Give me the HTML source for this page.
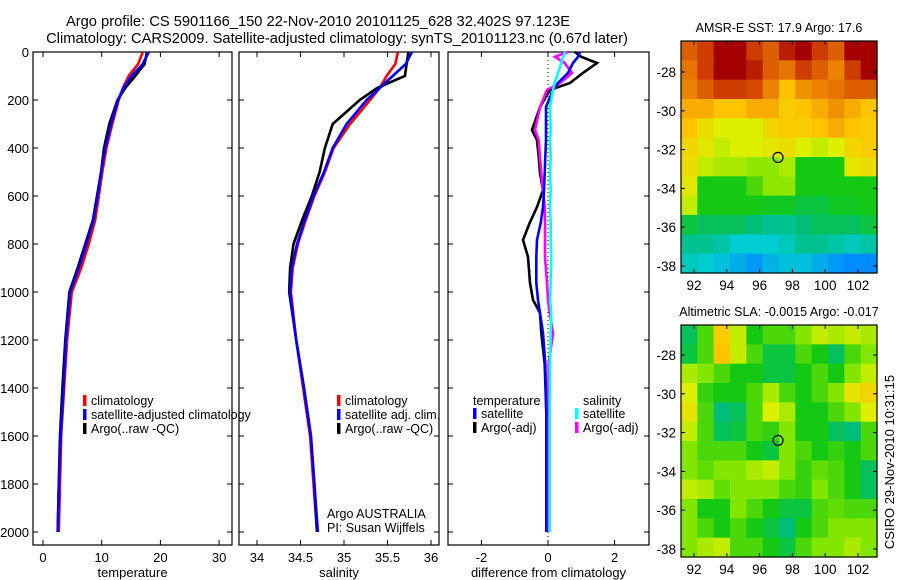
<!DOCTYPE html>
<html><head><meta charset="utf-8">
<style>
html,body{margin:0;padding:0;background:#fff;}
svg{display:block;font-family:"Liberation Sans",sans-serif;}
text{fill:#000;}
</style></head>
<body>
<svg id="chart" width="900" height="580" viewBox="0 0 900 580" xmlns="http://www.w3.org/2000/svg">
<text x="318" y="26" font-size="14.7" text-anchor="middle">Argo profile: CS 5901166_150 22-Nov-2010 20101125_628 32.402S 97.123E</text>
<text x="337" y="43" font-size="14.7" text-anchor="middle">Climatology: CARS2009. Satellite-adjusted climatology: synTS_20101123.nc (0.67d later)</text>
<g id="g"></g>
<text transform="translate(894,462) rotate(-90)" font-size="13" text-anchor="middle">CSIRO 29-Nov-2010 10:31:15</text>
</svg>
<script>
// ---- profile data ----
const depths = [0,50,100,150,200,300,400,500,600,700,800,900,1000,1200,1400,1600,1800,2000];
const tempClim = [17.0,16.2,14.6,13.6,12.9,11.8,10.8,10.1,9.5,8.9,7.8,6.5,4.9,4.1,3.6,3.1,2.9,2.7];
const tempSat  = [18.0,17.0,15.1,13.7,12.8,11.6,10.6,9.9,9.3,8.6,7.4,6.1,4.6,3.9,3.5,3.0,2.7,2.5];
const tempArgo = [17.7,17.3,15.7,14.0,12.7,11.3,10.4,9.9,9.2,8.5,7.2,5.9,4.5,3.8,3.3,2.9,2.7,2.5];
const salClim = [35.62,35.59,35.49,35.41,35.30,35.07,34.88,34.78,34.66,34.56,34.47,34.41,34.39,34.45,34.53,34.61,34.65,34.69];
const salSat  = [35.78,35.71,35.56,35.41,35.26,35.03,34.87,34.77,34.65,34.55,34.46,34.40,34.38,34.45,34.54,34.62,34.66,34.70];
const salArgo = [35.74,35.72,35.70,35.38,35.18,34.87,34.78,34.72,34.63,34.52,34.42,34.38,34.37,34.45,34.54,34.62,34.66,34.69];
const diffDepths = [0,20,46,87,129,158,229,325,367,437,504,575,646,712,783,854,962,1033,1087,1171,1300,1500,1700,2000];
const dTempSat  = [0.96,0.9,0.75,0.6,0.3,0.15,-0.06,-0.06,-0.06,-0.08,-0.1,-0.12,-0.15,-0.22,-0.33,-0.35,-0.35,-0.3,-0.24,-0.15,-0.08,-0.05,-0.05,-0.05];
const dTempArgo = [0.8,1.0,1.47,1.05,0.66,0.06,-0.24,-0.48,-0.33,-0.28,-0.24,-0.15,-0.33,-0.55,-0.75,-0.6,-0.54,-0.45,-0.24,-0.2,-0.1,-0.05,-0.05,-0.05];
const dSalSat   = [0.51,0.45,0.4,0.3,0.2,0.15,0.06,0.08,0.06,0.08,0.06,0.08,0.06,0.08,0.08,0.1,0.08,0.06,0.1,0.08,0.06,0.05,0.05,0.05];
const dSalArgo  = [0.6,0.21,0.5,0.72,0.36,-0.03,-0.24,-0.39,-0.28,-0.24,-0.2,-0.15,-0.1,-0.09,-0.09,-0.09,-0.03,0.0,0.05,0.15,0.02,0.0,0.0,0.0];
const depthTicks = [0,200,400,600,800,1000,1200,1400,1600,1800,2000];
const tempTicks = [0,10,20,30];
const salTicks = [34,34.5,35,35.5,36];
const diffTicks = [-2,0,2];
// ---- map data (colormap index 0..1), rows north to south ----
const sstGrid = [
[.85,.9,1,1,.9,.85,.95,1,.9,.85,1,1],
[.82,.9,1,1,.95,.85,.82,.9,.85,.8,.9,1],
[.8,.85,.9,.9,.88,.8,.72,.78,.8,.82,.85,.85],
[.75,.75,.72,.72,.75,.75,.7,.72,.75,.78,.75,.72],
[.72,.66,.62,.62,.62,.68,.7,.7,.72,.75,.72,.7],
[.68,.64,.6,.62,.62,.64,.66,.62,.6,.62,.68,.7],
[.66,.6,.58,.58,.56,.56,.58,.45,.45,.45,.64,.66],
[.64,.45,.45,.45,.5,.56,.56,.45,.45,.45,.45,.45],
[.6,.45,.45,.45,.45,.44,.44,.42,.42,.44,.44,.45],
[.42,.4,.4,.4,.38,.36,.36,.38,.4,.4,.4,.42],
[.36,.36,.34,.3,.3,.3,.32,.36,.36,.34,.32,.34],
[.32,.3,.28,.25,.22,.26,.28,.28,.25,.22,.2,.2]];
const slaGrid = [
[.4,.5,.7,.6,.45,.5,.5,.55,.6,.58,.6,.58],
[.42,.5,.72,.6,.5,.42,.42,.5,.45,.4,.5,.55],
[.58,.55,.5,.45,.45,.42,.42,.45,.5,.45,.55,.6],
[.62,.48,.45,.45,.5,.58,.5,.45,.5,.55,.65,.68],
[.65,.5,.38,.4,.5,.62,.58,.45,.45,.5,.55,.62],
[.6,.5,.4,.42,.5,.48,.55,.45,.45,.4,.38,.5],
[.55,.5,.5,.5,.45,.42,.55,.5,.45,.48,.45,.5],
[.55,.52,.55,.55,.58,.6,.55,.48,.52,.5,.45,.4],
[.6,.58,.52,.55,.55,.55,.5,.48,.55,.5,.45,.4],
[.55,.45,.45,.55,.5,.45,.42,.42,.5,.52,.5,.5],
[.55,.5,.45,.5,.45,.42,.38,.45,.5,.55,.55,.55],
[.55,.58,.6,.5,.5,.45,.42,.5,.55,.55,.58,.55]];
const lonTicks = [92,94,96,98,100,102];
const latTicks = [-28,-30,-32,-34,-36,-38];
const argoLon = 97.123, argoLat = -32.402;

const NS="http://www.w3.org/2000/svg";
const G=document.getElementById('g');
function el(tag,attrs,parent){const e=document.createElementNS(NS,tag);for(const k in attrs)e.setAttribute(k,attrs[k]);(parent||G).appendChild(e);return e;}
function txt(s,x,y,size,anchor,parent){const t=el('text',{x:x,y:y,'font-size':size,'text-anchor':anchor||'start'},parent);t.textContent=s;return t;}

const top0=52, bot=545;
const yD=d=>top0+d*0.24;
function panel(name,x0,x1,xs,xticks,xlabel,showY){
  const grp=el('g',{});
  
  
  const f=el('rect',{x:x0,y:top0,width:x1-x0,height:bot-top0,fill:'none',stroke:'#000','stroke-width':1.2},grp);
  
  
  depthTicks.forEach(d=>{
    el('line',{x1:x0,x2:x0+5,y1:yD(d),y2:yD(d),stroke:'#000'},grp);
    el('line',{x1:x1-5,x2:x1,y1:yD(d),y2:yD(d),stroke:'#000'},grp);
    if(showY){const t=txt(String(d),x0-4,yD(d)+5,13,'end',grp);
      
      }
  });
  xticks.forEach(v=>{
    el('line',{x1:xs(v),x2:xs(v),y1:bot,y2:bot-5,stroke:'#000'},grp);
    el('line',{x1:xs(v),x2:xs(v),y1:top0,y2:top0+5,stroke:'#000'},grp);
    const t=txt(String(v),xs(v),562,13,'middle',grp);
    
    
  });
  const xl=txt(xlabel,(x0+x1)/2,577,13,'middle',grp);
  
  
  return grp;
}
function line(grp,xs,ds,vals,color,name){
  const pts=vals.map((v,i)=>xs(v).toFixed(1)+','+yD(ds[i]).toFixed(1)).join(' ');
  const p=el('polyline',{points:pts,fill:'none',stroke:color,'stroke-width':2.6,'stroke-linejoin':'miter'},grp);
  
  
}
function legend(grp,x,y,items,size){
  items.forEach((it,i)=>{
    if(it[1]) el('rect',{x:x,y:y+i*14-10,width:3.5,height:11,fill:it[1]},grp);
    const t=txt(it[0],x+(it[1]?8:0),y+i*14,size||12.5,'start',grp);
    
    
  });
}

// temperature
const xT=v=>43+v*5.87;
const p1=panel('temperature',33,232,xT,tempTicks,'temperature',true);
line(p1,xT,depths,tempClim,'#f00','temp-climatology-line');
line(p1,xT,depths,tempArgo,'#000','temp-argo-line');
line(p1,xT,depths,tempSat,'#00f','temp-satellite-line');
legend(p1,83,405,[['climatology','#f00'],['satellite-adjusted climatology','#00f'],['Argo(..raw -QC)','#000']]);
// salinity
const xS=v=>257+(v-34)*87;
const p2=panel('salinity',239,439,xS,salTicks,'salinity',false);
line(p2,xS,depths,salClim,'#f00','sal-climatology-line');
line(p2,xS,depths,salArgo,'#000','sal-argo-line');
line(p2,xS,depths,salSat,'#00f','sal-satellite-line');
legend(p2,337,405,[['climatology','#f00'],['satellite adj. clim.','#00f'],['Argo(..raw -QC)','#000']]);
const a1=txt('Argo AUSTRALIA',327,518,12.5,'start',p2);


const a2=txt('PI: Susan Wijffels',327,532,12.5,'start',p2);


// difference
const xDf=v=>548+v*33.3;
const p3=panel('difference',448,649,xDf,diffTicks,'difference from climatology',false);
el('line',{x1:xDf(0),x2:xDf(0),y1:top0,y2:bot,stroke:'#000','stroke-dasharray':'1,3'},p3);
line(p3,xDf,diffDepths,dTempArgo,'#000','diff-temp-argo-line');
line(p3,xDf,diffDepths,dSalArgo,'#f0f','diff-sal-argo-line');
line(p3,xDf,diffDepths,dTempSat,'#00f','diff-temp-satellite-line');
line(p3,xDf,diffDepths,dSalSat,'#0ff','diff-sal-satellite-line');
legend(p3,473,405,[['temperature',null]],12.5);
legend(p3,473,418,[['satellite','#00f'],['Argo(-adj)','#000']]);
legend(p3,583,405,[['salinity',null]],12.5);
legend(p3,575,418,[['satellite','#0ff'],['Argo(-adj)','#f0f']]);

// colormap stops (matching reference palette)
const cmStops=[[0.0,[0,60,255]],[0.2,[0,140,255]],[0.3,[0,205,210]],[0.38,[0,190,120]],[0.45,[20,200,20]],[0.55,[130,230,0]],[0.62,[220,240,0]],[0.72,[255,195,0]],[0.8,[235,130,0]],[0.9,[205,60,0]],[1.0,[165,0,0]]];
function cmap(v){
  v=Math.max(0,Math.min(1,v));
  for(let i=1;i<cmStops.length;i++){
    if(v<=cmStops[i][0]){
      const a=cmStops[i-1],b=cmStops[i],t=(v-a[0])/(b[0]-a[0]);
      return 'rgb('+a[1].map((c,k)=>Math.round(c+(b[1][k]-c)*t)).join(',')+')';
    }
  }
  return 'rgb(165,0,0)';
}
function map(name,grid,fx0,fy0,fx1,fy1,title,latY0){
  const grp=el('g',{});
  
  
  const lonX=lo=>694+(lo-92)*16.4;
  const latY=la=>latY0+(-28-la)*19.4;
  const rows=grid.length, cols=grid[0].length;
  const cw=(fx1-fx0)/cols, ch=(fy1-fy0)/rows;
  grid.forEach((row,r)=>row.forEach((v,c)=>{
    const cell=el('rect',{x:fx0+c*cw,y:fy0+r*ch,width:cw+0.6,height:ch+0.6,fill:cmap(v)},grp);
    
    
  }));
  el('rect',{x:fx0,y:fy0,width:fx1-fx0,height:fy1-fy0,fill:'none',stroke:'#000','stroke-width':1.2},grp);
  lonTicks.forEach(lo=>{
    el('line',{x1:lonX(lo),x2:lonX(lo),y1:fy1,y2:fy1-4,stroke:'#000'},grp);
    el('line',{x1:lonX(lo),x2:lonX(lo),y1:fy0,y2:fy0+4,stroke:'#000'},grp);
    const t=txt(String(lo),lonX(lo),fy1+17,13.5,'middle',grp);
    
    
  });
  latTicks.forEach(la=>{
    el('line',{x1:fx0,x2:fx0+4,y1:latY(la),y2:latY(la),stroke:'#000'},grp);
    el('line',{x1:fx1-4,x2:fx1,y1:latY(la),y2:latY(la),stroke:'#000'},grp);
    const t=txt(String(la),fx0-5,latY(la)+5,13.5,'end',grp);
    
    
  });
  const m=el('circle',{cx:lonX(argoLon),cy:latY(argoLat),r:5,fill:'none',stroke:'#000','stroke-width':1.2},grp);
  
  
  const tt=txt(title,(fx0+fx1)/2,fy0-9,12.5,'middle',grp);
  
  
}
map('sst-map',sstGrid,681,41,877,273,'AMSR-E SST: 17.9 Argo: 17.6',72);
map('sla-map',slaGrid,681,325,877,557,'Altimetric SLA: -0.0015 Argo: -0.017',355);
</script>
</body></html>
